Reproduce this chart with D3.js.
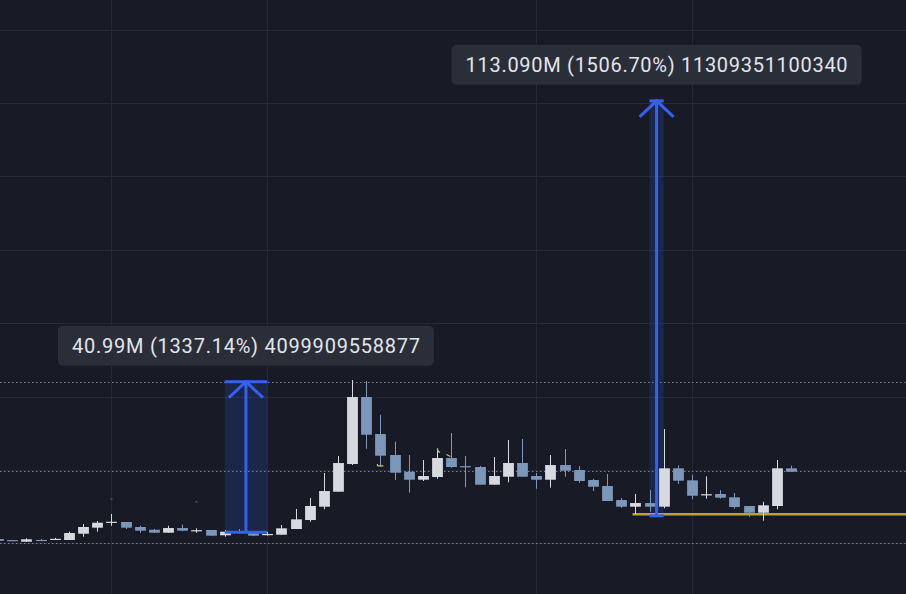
<!DOCTYPE html>
<html><head><meta charset="utf-8">
<script src="https://cdn.jsdelivr.net/npm/d3@7/dist/d3.min.js"></script>
<style>html,body{margin:0;padding:0;background:#181b26;overflow:hidden}</style>
</head><body><svg id="c" width="906" height="594"></svg>
<script>
// Candle data (values in millions), index = bar number
const opens  = [1.2,0.9,0.46,0.95,1.1,0.93,2.64,4.28,5.83,5.83,4.47,3.73,2.91,4.19,3.55,3.65,2.21,3.2,3.19,2.5,2.37,3.92,6.37,10.0,14.08,21.63,39.88,29.8,24.08,19.53,17.35,18.09,23.26,21.05,20.81,15.99,18.17,21.9,18.36,17.35,21.35,19.99,17.27,15.63,11.82,10.0,11.0,10.0,20.46,17.19,13.3,13.46,12.56,10.19,8.36,10.19,20.46];
const highs  = [1.2,0.95,1.39,1.2,1.5,3.19,5.28,6.1,8.01,5.83,4.82,3.92,4.82,5.1,4.11,3.65,3.65,3.92,3.3,3.19,5.01,9.37,12.37,19.18,23.81,44.51,44.23,35.05,27.7,24.08,22.72,25.9,30.07,23.81,21.1,23.53,28.16,28.44,19.18,24.08,25.71,21.08,17.62,18.9,12.37,13.46,14.54,31.16,21.27,18.71,18.28,14.54,13.73,10.19,11.36,22.72,21.16];
const lows   = [0.65,0.75,0.46,0.85,1.05,0.93,1.82,3.19,4.82,3.92,2.91,2.91,2.91,3.3,2.91,2.1,1.82,2.75,2.0,2.1,2.37,3.92,5.91,9.29,14.08,21.35,25.79,20.89,17.27,13.81,17.0,17.62,20.62,15.28,15.99,15.99,16.64,18.17,14.9,15.17,18.17,16.53,14.27,11.55,9.73,8.01,8.64,9.56,16.18,12.01,12.18,12.2,9.45,7.27,6.18,9.29,19.53];
const closes = [0.7,0.8,1.12,0.9,1.25,2.83,4.47,5.64,5.9,4.28,3.46,2.91,4.19,3.46,3.6,2.1,3.19,3.15,2.1,2.56,4.11,6.56,10.19,14.27,21.9,39.88,29.61,23.89,19.26,17.35,18.36,23.26,20.81,21.0,15.99,18.36,21.9,18.17,17.35,21.35,19.8,17.0,15.44,11.55,10.0,11.0,10.0,20.46,17.08,12.99,13.4,12.45,9.91,8.36,10.38,20.46,19.53];

// Gridlines
const gridValues = [0,20,40,60,80,100,120,140];
const gridBars = [8,19,38,49];
// Dotted horizontal price lines (millions)
const dottedLevels = [44.06,19.7,0];
// Measure tools
const measureStartBars = [16,46];
const measureEndBars = [19,47];
const measureFrom = [3.066,7.506];
const measureTo = [44.056,120.596];
const measureLabels = ["40.99M (1337.14%) 4099909558877","113.090M (1506.70%) 11309351100340"];
// Horizontal yellow ray
const rayStartBar = 44.8;
const rayLevel = 7.93;
// small markers [bar, value]
const dotMarks = [[8,12.1],[14,11.3]];

const svg = d3.select("#c");
const W = 906, H = 594;
const x = d3.scaleLinear().domain([0,56]).range([-1.85,791.1]);
const y = d3.scaleLinear().domain([0,140]).range([543.4,29.6]);
const bw = 10.8;

svg.append("rect").attr("width",W).attr("height",H).attr("fill","#181b26");

// grid
svg.append("g").selectAll("line").data(gridValues).join("line")
  .attr("x1",0).attr("x2",W).attr("y1",d=>Math.round(y(d))+0.5).attr("y2",d=>Math.round(y(d))+0.5)
  .attr("stroke","#252936").attr("stroke-width",1);
svg.append("g").selectAll("line").data(gridBars).join("line")
  .attr("y1",0).attr("y2",H).attr("x1",d=>Math.round(x(d))+0.5).attr("x2",d=>Math.round(x(d))+0.5)
  .attr("stroke","#252936").attr("stroke-width",1);

// dotted lines
svg.append("g").selectAll("line").data(dottedLevels).join("line")
  .attr("x1",0).attr("x2",W).attr("y1",d=>Math.round(y(d))+0.5).attr("y2",d=>Math.round(y(d))+0.5)
  .attr("stroke","#7d808c").attr("stroke-width",1).attr("stroke-dasharray","1.5,2.5");

// measure shading (behind candles)
const mg = svg.append("g");
measureStartBars.forEach((sb,k)=>{
  const x0 = x(sb), x1 = x(measureEndBars[k]);
  mg.append("rect").attr("x",x0).attr("width",x1-x0)
    .attr("y",y(measureTo[k])).attr("height",y(measureFrom[k])-y(measureTo[k]))
    .attr("fill","rgba(41,98,255,0.16)");
});

// yellow ray
svg.append("line").attr("x1",x(rayStartBar)).attr("x2",W)
  .attr("y1",y(rayLevel)).attr("y2",y(rayLevel))
  .attr("stroke","#b3a440").attr("stroke-width",2.4);

// small dot marks
svg.append("g").selectAll("rect").data(dotMarks).join("rect")
  .attr("x",d=>x(d[0])-1).attr("y",d=>y(d[1])-1).attr("width",2).attr("height",2).attr("fill","#3f4857");

// candles
const upC = "#d6d9e0", dnC = "#7d97ba";
const idx = d3.range(opens.length);
const cg = svg.append("g");
cg.selectAll("line").data(idx).join("line")
  .attr("x1",i=>Math.round(x(i))+0.5).attr("x2",i=>Math.round(x(i))+0.5)
  .attr("y1",i=>y(highs[i])).attr("y2",i=>y(lows[i]))
  .attr("stroke",i=>closes[i]>=opens[i]?upC:dnC).attr("stroke-width",1);
cg.selectAll("rect").data(idx).join("rect")
  .attr("x",i=>Math.round(x(i))+0.5-bw/2).attr("width",bw)
  .attr("y",i=>y(Math.max(opens[i],closes[i])))
  .attr("height",i=>Math.max(1.2,Math.abs(y(opens[i])-y(closes[i]))))
  .attr("fill",i=>closes[i]>=opens[i]?upC:dnC);

// tiny yellow marks near the top of the spike
const ym = svg.append("g").attr("stroke","#c8c07c").attr("stroke-width",1.2).attr("fill","none");
ym.append("path").attr("d",`M${x(27)-3},${y(21.1)} h6 M${x(27)-3},${y(21.1)} v-2`);
ym.append("path").attr("d",`M${x(31)},${y(25.7)} l2,3 l1,0`);
ym.append("path").attr("d",`M${x(31.8)-2},${y(24.2)} l4,2`);

// measure arrows and labels
measureStartBars.forEach((sb,k)=>{
  const x0 = x(sb), x1 = x(measureEndBars[k]);
  const xm = (x0+x1)/2;
  const yt = y(measureTo[k]), yb = y(measureFrom[k]);
  const g = svg.append("g").attr("stroke","#3462ee").attr("stroke-width",3).attr("fill","none").attr("stroke-linecap","butt");
  g.append("line").attr("x1",xm).attr("x2",xm).attr("y1",yt).attr("y2",yb);
  g.append("line").attr("x1",x0).attr("x2",x1).attr("y1",yt).attr("y2",yt);
  g.append("line").attr("x1",x0).attr("x2",x1).attr("y1",yb).attr("y2",yb);
  g.append("path").attr("d",`M${xm-17},${yt+16} L${xm},${yt} L${xm+17},${yt+16}`);

  const lbl = svg.append("g");
  const tw = k===0?348:382;
  const bwid = tw+28, bh = 40;
  const by = yt - 16 - bh;
  lbl.append("rect").attr("x",xm-bwid/2).attr("y",by).attr("width",bwid).attr("height",bh)
    .attr("rx",5).attr("fill","#2a2e39");
  lbl.append("text").attr("x",xm).attr("y",by+bh/2+7.3).attr("text-anchor","middle")
    .attr("font-family","Roboto, 'Noto Sans', sans-serif").attr("font-size",20)
    .attr("textLength",tw).attr("lengthAdjust","spacing")
    .attr("fill","#e3e5ec").text(measureLabels[k]);
});
</script></body></html>
